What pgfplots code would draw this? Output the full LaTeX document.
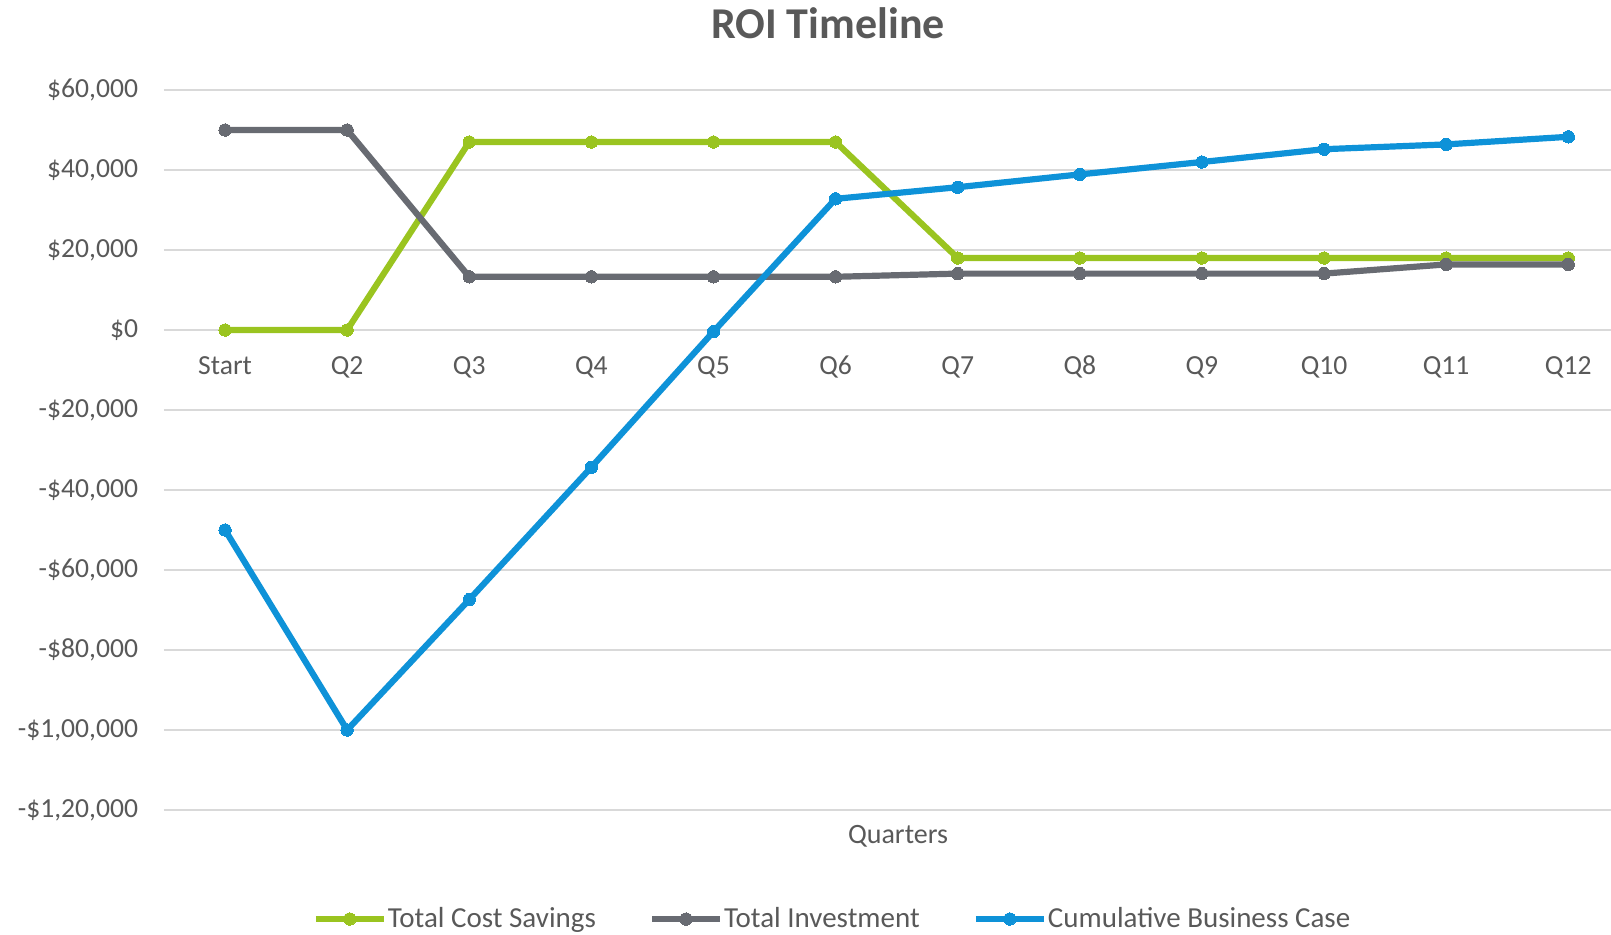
\documentclass[border=0pt]{standalone}
\usepackage{pgfplots}
\pgfplotsset{compat=1.18}
\usepackage{fontspec}
\setmainfont{Carlito}
\definecolor{cgreen}{RGB}{154,196,32}
\definecolor{cgray}{RGB}{104,107,114}
\definecolor{cblue}{RGB}{14,146,216}
\definecolor{cgrid}{RGB}{217,217,217}
\definecolor{ctext}{RGB}{89,89,89}
\begin{document}
\begin{tikzpicture}
\path[use as bounding box] (-82pt,-62pt) rectangle (723.5pt,405pt);
\begin{axis}[
  at={(0pt,0pt)}, anchor=south west,
  scale only axis, width=723.5pt, height=360pt,
  xmin=-0.5, xmax=11.35, ymin=-120000, ymax=60000,
  scaled y ticks=false,
  xtick={0,...,11},
  xticklabels={Start,Q2,Q3,Q4,Q5,Q6,Q7,Q8,Q9,Q10,Q11,Q12},
  ytick={-120000,-100000,-80000,-60000,-40000,-20000,0,20000,40000,60000},
  yticklabels={{-\$1,20,000},{-\$1,00,000},{-\$80,000},{-\$60,000},{-\$40,000},{-\$20,000},{\$0},{\$20,000},{\$40,000},{\$60,000}},
  axis line style={draw=none},
  tick style={draw=none},
  major tick length=0pt,
  ymajorgrids, grid style={cgrid, line width=0.75pt},
  tick label style={font=\fontsize{13.8}{16}\selectfont, text=ctext},
  xticklabel style={anchor=base, yshift=218pt},
  yticklabel style={anchor=east, inner sep=0pt, xshift=-12.8pt},
  clip=false,
  legend columns=3,
  legend style={draw=none, fill=none, at={(334pt,-54.5pt)}, anchor=center,
    font=\fontsize{14.5}{16}\selectfont, text=ctext,
    /tikz/every even column/.append style={column sep=26pt},
    inner sep=0pt, nodes={inner sep=0.5pt}},
  legend image code/.code={\draw[mark repeat=2,mark phase=2,#1] plot coordinates {(0pt,0pt) (17pt,0pt) (34pt,0pt)};},
  every axis plot/.append style={line width=3.1pt, mark=*, mark size=3.1pt},
]
\addplot[cgreen, mark options={fill=cgreen, draw=cgreen, line width=0pt}] coordinates {
 (0,0) (1,0) (2,47000) (3,47000) (4,47000) (5,47000) (6,18000) (7,18000) (8,18000) (9,18000) (10,18000) (11,18000)};
\addlegendentry{Total Cost Savings}
\addplot[cgray, mark options={fill=cgray, draw=cgray, line width=0pt}] coordinates {
 (0,50000) (1,50000) (2,13300) (3,13300) (4,13300) (5,13300) (6,14100) (7,14100) (8,14100) (9,14100) (10,16400) (11,16400)};
\addlegendentry{Total Investment}
\addplot[cblue, mark options={fill=cblue, draw=cblue, line width=0pt}] coordinates {
 (0,-50000) (1,-100000) (2,-67400) (3,-34300) (4,-400) (5,32800) (6,35700) (7,38900) (8,42000) (9,45200) (10,46400) (11,48300)};
\addlegendentry{Cumulative Business Case}
\end{axis}
\node[anchor=base, text=ctext, font=\fontsize{14}{16}\selectfont] at (367pt,-16.7pt) {Quarters};
\node[anchor=base, text=ctext, font=\fontsize{22}{26}\bfseries] at (332pt,385.5pt) {ROI Timeline};
\end{tikzpicture}
\end{document}
